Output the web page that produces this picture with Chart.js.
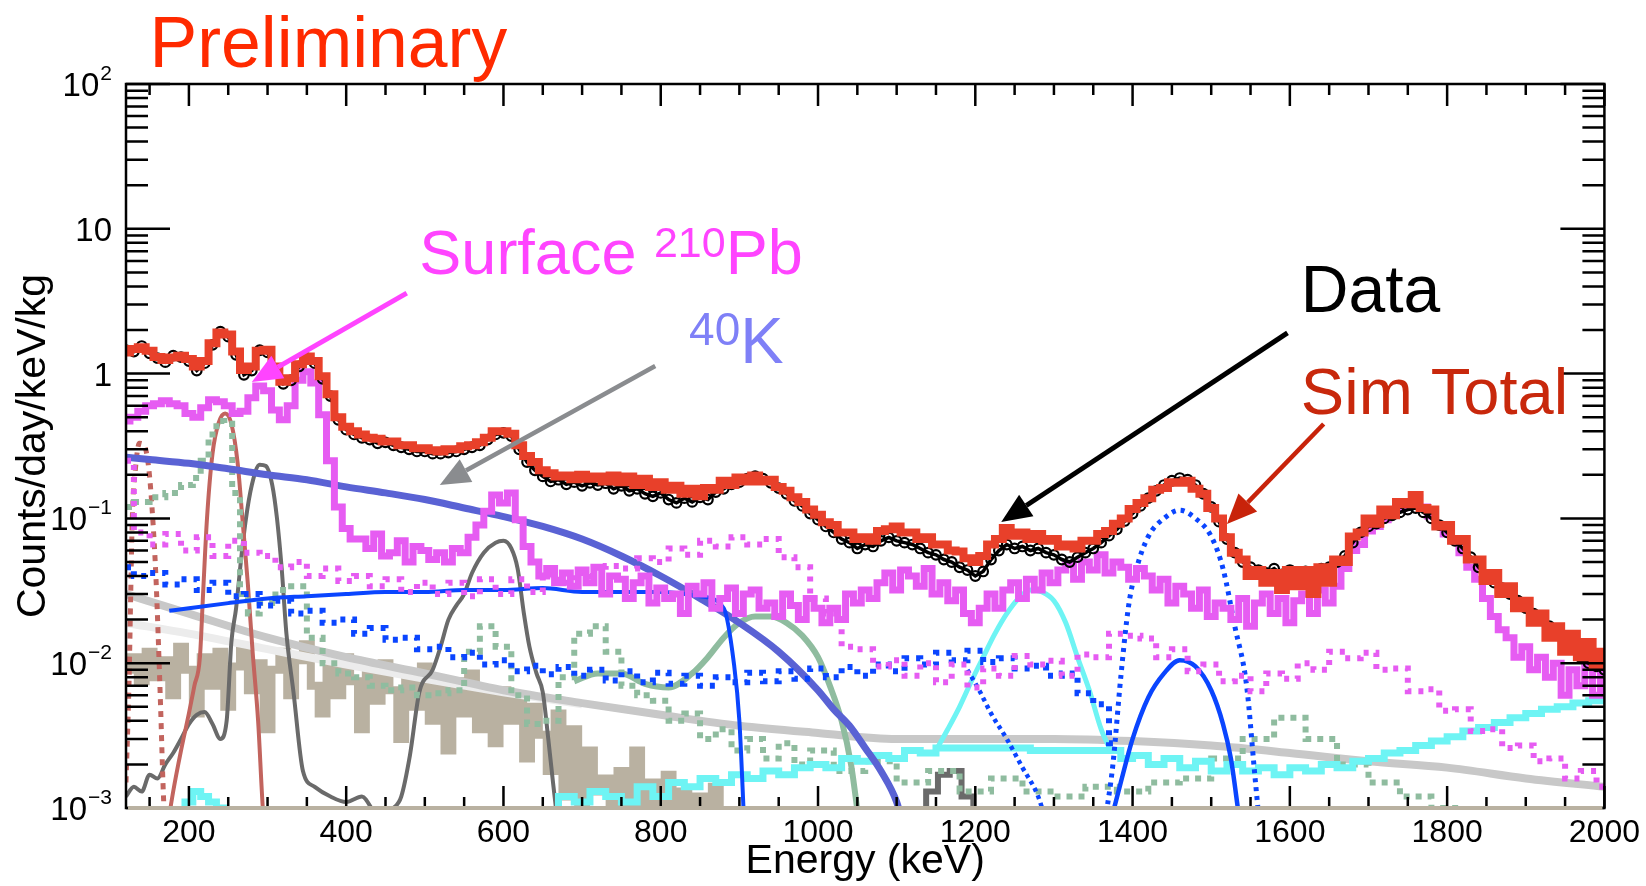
<!DOCTYPE html>
<html>
<head>
<meta charset="utf-8">
<script src="https://cdn.jsdelivr.net/npm/chart.js@4/dist/chart.umd.min.js"></script>
<style>
  html, body { margin: 0; padding: 0; background: #fff; }
  #wrap { width: 1646px; height: 886px; }
</style>
</head>
<body>
<div id="wrap"><canvas id="spectrum" width="1646" height="886"></canvas></div>
<script>
// Energy spectrum, counts/day/keV/kg, data vs simulated components (log y)

const E_MIN = 120, E_MAX = 2000
const X_TICK_STEP = 200
const Y_DECADES = [-3, -2, -1, 0, 1, 2]
const Y_TICK_BASE = ['10', '10', '10', '1', '10', '10']
const Y_TICK_SUP  = ['\u22123', '\u22122', '\u22121', '', '', '2']

// 10 keV bins starting at 120 keV
const SIM_TOTAL = [
  1.40,1.48,1.52,1.44,1.30,1.24,1.29,1.33,1.26,1.12,
  1.22,1.62,1.92,1.86,1.42,1.06,1.12,1.44,1.46,1.12,
  0.88,0.93,1.16,1.31,1.22,0.96,0.72,0.50,0.43,0.40,
  0.38,0.36,0.355,0.34,0.34,0.32,0.32,0.305,0.305,0.295,
  0.29,0.30,0.30,0.315,0.32,0.335,0.36,0.40,0.40,0.385,
  0.32,0.27,0.245,0.215,0.205,0.195,0.198,0.186,0.2,0.188,
  0.195,0.18,0.198,0.178,0.195,0.17,0.188,0.165,0.178,0.158,
  0.168,0.148,0.16,0.142,0.162,0.158,0.182,0.17,0.192,0.18,
  0.198,0.18,0.185,0.165,0.155,0.14,0.13,0.115,0.106,0.094,
  0.09,0.08,0.08,0.072,0.074,0.07,0.082,0.084,0.088,0.08,
  0.08,0.072,0.074,0.066,0.066,0.06,0.059,0.053,0.05,0.055,
  0.066,0.072,0.086,0.076,0.08,0.072,0.078,0.07,0.072,0.064,
  0.066,0.062,0.07,0.07,0.078,0.082,0.092,0.1,0.116,0.128,
  0.138,0.158,0.162,0.178,0.176,0.182,0.16,0.148,0.118,0.1,
  0.074,0.058,0.052,0.04,0.044,0.036,0.042,0.032,0.044,0.034,
  0.044,0.03,0.046,0.036,0.052,0.05,0.075,0.08,0.1,0.092,
  0.115,0.105,0.13,0.125,0.145,0.118,0.115,0.088,0.09,0.07,
  0.072,0.052,0.052,0.037,0.042,0.03,0.034,0.024,0.027,0.019,
  0.022,0.015,0.018,0.012,0.016,0.011,0.014,0.0095,0.012,
]
const DATA = [
  1.45,1.42,1.55,1.38,1.28,1.20,1.33,1.30,1.22,1.05,
  1.18,1.58,1.95,1.80,1.35,0.98,1.05,1.45,1.40,1.05,
  0.85,0.90,1.12,1.28,1.18,0.92,0.70,0.48,0.41,0.38,
  0.36,0.35,0.33,0.335,0.32,0.31,0.30,0.29,0.29,0.28,
  0.28,0.285,0.29,0.30,0.31,0.32,0.35,0.38,0.39,0.37,
  0.30,0.245,0.215,0.195,0.18,0.185,0.172,0.178,0.168,0.176,
  0.17,0.175,0.16,0.168,0.155,0.16,0.148,0.142,0.15,0.135,
  0.128,0.138,0.13,0.14,0.135,0.152,0.16,0.172,0.178,0.188,
  0.196,0.188,0.176,0.162,0.148,0.132,0.122,0.108,0.098,0.088,
  0.08,0.072,0.068,0.062,0.066,0.064,0.07,0.074,0.07,0.068,
  0.066,0.062,0.058,0.056,0.052,0.05,0.046,0.044,0.04,0.043,
  0.052,0.06,0.066,0.062,0.064,0.06,0.062,0.058,0.056,0.052,
  0.05,0.054,0.058,0.062,0.068,0.076,0.084,0.096,0.108,0.122,
  0.138,0.155,0.17,0.182,0.19,0.185,0.17,0.148,0.12,0.095,
  0.072,0.058,0.05,0.046,0.044,0.042,0.045,0.041,0.044,0.042,
  0.043,0.04,0.045,0.046,0.05,0.055,0.068,0.08,0.088,0.092,
  0.1,0.105,0.11,0.115,0.118,0.11,0.1,0.09,0.08,0.07,
  0.062,0.054,0.046,0.04,0.036,0.033,0.03,0.027,0.024,0.022,
  0.02,0.018,0.016,0.014,0.0125,0.011,0.01,0.0095,0.009,
]
const SURFACE_PB = [
  0.47,0.50,0.55,0.60,0.62,0.65,0.62,0.60,0.53,0.50,
  0.58,0.66,0.64,0.60,0.53,0.55,0.68,0.82,0.76,0.56,
  0.48,0.60,0.90,1.03,0.86,0.52,0.25,0.12,0.085,0.072,
  0.072,0.062,0.078,0.055,0.058,0.07,0.05,0.064,0.06,0.052,
  0.058,0.05,0.062,0.058,0.074,0.09,0.112,0.145,0.128,0.15,
  0.098,0.064,0.05,0.04,0.045,0.036,0.042,0.034,0.044,0.036,
  0.046,0.03,0.04,0.038,0.028,0.036,0.04,0.026,0.033,0.028,
  0.03,0.022,0.034,0.03,0.036,0.024,0.028,0.033,0.022,0.03,
  0.032,0.024,0.026,0.021,0.03,0.025,0.02,0.028,0.024,0.019,
  0.024,0.02,0.03,0.026,0.032,0.028,0.036,0.042,0.032,0.044,
  0.04,0.034,0.045,0.03,0.036,0.027,0.032,0.022,0.019,0.024,
  0.03,0.024,0.032,0.036,0.028,0.038,0.032,0.042,0.036,0.044,
  0.048,0.038,0.05,0.044,0.056,0.042,0.05,0.046,0.038,0.045,
  0.04,0.032,0.038,0.026,0.034,0.03,0.024,0.032,0.021,0.026,
  0.024,0.02,0.028,0.018,0.026,0.03,0.022,0.028,0.019,0.027,
  0.03,0.022,0.032,0.026,0.034,0.045,0.06,0.066,0.082,0.088,
  0.098,0.108,0.118,0.124,0.14,0.12,0.104,0.09,0.078,0.07,
  0.058,0.046,0.038,0.028,0.021,0.017,0.015,0.011,0.013,0.009,
  0.011,0.008,0.01,0.006,0.009,0.007,0.01,0.006,0.01,
]
// tan component, 10 keV bins from 120 keV
const TAN_COMP = [
  0.009,0.011,0.0075,0.012,0.008,0.0105,0.006,0.013,0.009,0.0045,
  0.011,0.007,0.012,0.005,0.0095,0.0125,0.0065,0.01,0.0035,0.009,
  0.012,0.006,0.0105,0.0135,0.007,0.0045,0.0095,0.006,0.011,0.0075,
  0.0035,0.009,0.0055,0.01,0.0065,0.003,0.0085,0.005,0.0095,0.004,
  0.007,0.0025,0.0075,0.0045,0.0085,0.0035,0.006,0.0028,0.0065,0.004,
  0.0055,0.0022,0.005,0.0032,0.0018,0.0045,0.0012,0.0035,0.0009,0.0025,
  0.0013,0.0016,0.0008,0.0018,0.0011,0.0025,0.0009,0.0015,0.0008,0.0017,
  0.0007,0.0013,0.0006,0.0012,0.0007,0.0014,0.0006,
]
// 20 keV bins from 120 keV
const SURFACE_PB_DASH = [
  0.25,0.08,0.066,0.078,0.06,0.074,0.055,0.07,0.058,0.055,
  0.046,0.05,0.04,0.045,0.037,0.04,0.034,0.038,0.031,0.036,
  0.03,0.036,0.029,0.038,0.03,0.038,0.031,0.041,0.036,0.042,
  0.04,0.047,0.045,0.053,0.05,0.062,0.056,0.07,0.064,0.074,
  0.066,0.072,0.054,0.046,0.028,0.022,0.013,0.0125,0.0095,0.0105,
  0.0082,0.01,0.0074,0.0098,0.0068,0.0092,0.0082,0.0112,0.0098,0.0104,
  0.0082,0.0115,0.011,0.016,0.0155,0.0148,0.011,0.0125,0.0088,0.0098,
  0.0075,0.0082,0.0064,0.0085,0.0078,0.01,0.009,0.012,0.0108,0.0118,
  0.009,0.0092,0.0064,0.0066,0.0047,0.0048,0.0034,0.0035,0.0026,0.0027,
  0.0021,0.0022,0.0016,0.0018,0.0014,
]
const BLUE_NOISE = [
  0.046,0.04,0.042,0.035,0.038,0.032,0.036,0.029,0.03,0.025,
  0.027,0.022,0.023,0.019,0.02,0.016,0.0175,0.0145,0.015,0.0125,
  0.013,0.011,0.0118,0.0098,0.0105,0.0088,0.0096,0.0084,0.0094,0.0082,
  0.009,0.0076,0.0088,0.0074,0.0086,0.0072,0.0082,0.007,0.008,0.0074,
  0.0086,0.0075,0.0088,0.0078,0.0092,0.008,0.0094,0.0082,0.0098,0.0088,
  0.0108,0.0098,0.0118,0.0105,0.0122,0.0102,0.0108,0.0092,0.0096,0.0082,
  0.0085,0.0062,0.0052,0.0028,
]

const K40_E = [120,150,200,250,300,350,400,450,500,550,600,650,700,750,800,850,900,950,1000,1020,1040,1060,1080,1100,1110]
const K40_V = [0.265,0.255,0.24,0.22,0.2,0.185,0.165,0.15,0.135,0.118,0.103,0.088,0.072,0.055,0.04,0.028,0.019,0.012,0.0065,0.0048,0.0037,0.0026,0.0018,0.0011,0.0007]

const BLUE_LINE_E = [175,200,250,300,350,400,450,500,550,600,650,700,750,800,850,880,893,900,906]
const BLUE_LINE_V = [0.023,0.024,0.026,0.028,0.029,0.03,0.031,0.031,0.032,0.032,0.033,0.031,0.031,0.031,0.029,0.024,0.01,0.004,0.0008]

const BLUE_PEAK_E = [1365,1375,1385,1395,1405,1420,1440,1460,1480,1500,1515,1530,1545,1555,1562]
const BLUE_PEAK_V = [0.0008,0.002,0.008,0.025,0.045,0.075,0.1,0.114,0.1,0.075,0.045,0.018,0.007,0.0018,0.0007]

const BLUE_ARC_E = [1372,1385,1400,1420,1440,1460,1480,1500,1515,1525,1535]
const BLUE_ARC_V = [0.0008,0.0015,0.003,0.0058,0.0085,0.0105,0.0095,0.0065,0.0038,0.0022,0.0009]

const BLUE_FALL_E = [1190,1205,1220,1240,1260,1280,1290]
const BLUE_FALL_V = [0.009,0.0065,0.0045,0.003,0.0019,0.0012,0.0008]

const BROWN_PEAK_E = [172,180,190,200,207,214,218,223,230,238,246,254,262,268,275,281,288,294,298]
const BROWN_PEAK_V = [0.0007,0.0013,0.0025,0.0045,0.007,0.011,0.03,0.1,0.28,0.46,0.53,0.45,0.24,0.1,0.035,0.012,0.004,0.001,0.0006]

const BROWN_EDGE_E = [120,124,126,128,132,137,143,149,154,158,161,164,167,170]
const BROWN_EDGE_V = [0.0015,0.008,0.03,0.1,0.22,0.33,0.32,0.22,0.1,0.04,0.015,0.005,0.0015,0.0006]

const GRAY_E = [120,130,140,150,160,170,180,190,200,210,220,230,240,248,254,260,266,272,280,290,298,306,312,318,324,333,345,360,380,400,420,440,460,470,481,493,510,520,530,540,550,560,575,590,600,610,618,626,633,642,650,657,663,670]
const GRAY_V = [0.0012,0.0014,0.0013,0.0017,0.0016,0.002,0.0024,0.003,0.0038,0.0044,0.0046,0.0038,0.003,0.004,0.014,0.024,0.05,0.095,0.17,0.235,0.23,0.17,0.1,0.045,0.016,0.0063,0.0018,0.0014,0.0012,0.0011,0.0012,0.0009,0.001,0.0012,0.0023,0.0063,0.009,0.013,0.02,0.025,0.03,0.042,0.058,0.068,0.07,0.062,0.045,0.022,0.013,0.0085,0.0063,0.003,0.0015,0.0007]

const GRAY_BUMP_E = [1130,1145,1160,1175,1190,1205]
const GRAY_BUMP_V = [0.0007,0.0013,0.0017,0.0018,0.0012,0.0007]

const GREEN_E = [120,140,160,180,200,210,220,230,240,250,260,270,280,300,320,340,360,380,400,420,440,460,480,500,520,540,560,580,600,620,640,660,680,700,720,740,760,780,800,820,840,860,880,900,920,940,960,980,1000,1040,1080,1120,1160,1200,1240,1280,1320,1360,1400,1440,1480,1520,1560,1600,1640,1680,1720,1760,1800,1840,1880]
const GREEN_V = [0.12,0.13,0.14,0.15,0.17,0.19,0.25,0.38,0.47,0.45,0.15,0.03,0.022,0.026,0.032,0.034,0.015,0.01,0.0085,0.008,0.007,0.0065,0.0068,0.006,0.0062,0.0065,0.012,0.018,0.013,0.006,0.0038,0.004,0.008,0.016,0.018,0.012,0.007,0.006,0.0055,0.004,0.0045,0.003,0.0035,0.0025,0.003,0.0022,0.0028,0.002,0.0025,0.0018,0.0021,0.0015,0.0018,0.0013,0.0016,0.0013,0.0012,0.0014,0.0013,0.0015,0.0016,0.0022,0.003,0.0042,0.003,0.002,0.0015,0.0012,0.001,0.0008,0.0006]

const GREEN_PEAK_E = [690,720,750,780,810,840,860,880,900,920,940,960,980,1000,1015,1030,1042,1052]
const GREEN_PEAK_V = [0.0075,0.0085,0.0085,0.0072,0.0068,0.0085,0.011,0.015,0.019,0.021,0.021,0.019,0.0155,0.011,0.007,0.004,0.002,0.0008]

const LIGHT_GRAY_E = [120,200,300,400,500,600,700,800,900,1000,1100,1200,1300,1400,1500,1600,1700,1800,1900,2000]
const LIGHT_GRAY_V = [0.03,0.022,0.015,0.011,0.0085,0.0065,0.0053,0.0044,0.0037,0.0033,0.003,0.003,0.003,0.0029,0.0027,0.0024,0.0021,0.0019,0.0016,0.0014]

const PALE_GRAY_E = [120,200,300,400,500,600,700]
const PALE_GRAY_V = [0.019,0.016,0.0125,0.0098,0.0078,0.0063,0.0052]

const CYAN_E = [190,200,210,220,230,240,250,260,650,660,680,700,720,740,760,780,800,820,840,860,880,900,920,940,960,980,1000,1020,1040,1060,1080,1100,1120,1140,1160,1380,1390,1410,1430,1450,1470,1490,1510,1530,1550,1570,1590,1610,1630,1650,1670,1690,1710,1730,1750,1770,1790,1810,1830,1850,1870,1890,1910,1930,1950,1970,1990,2000]
const CYAN_V = [
  0.0006,0.0011,0.0013,0.0012,0.0011,0.001,0.0008,0.0006,0.0006,0.0009,
  0.0012,0.0011,0.0013,0.0012,0.0011,0.0014,0.0012,0.0015,0.0014,0.0016,0.0015,0.0017,0.0016,0.0018,0.0017,
  0.0019,0.002,0.0019,0.0022,0.0021,0.0023,0.0022,0.0025,0.0024,0.0026,
  0.0025,0.0022,0.0023,0.002,0.0022,0.0019,0.0021,0.0018,0.002,0.0018,0.0019,0.0017,0.0019,0.0018,0.002,
  0.0019,0.0021,0.0022,0.0024,0.0025,0.0027,0.0029,0.0031,0.0034,0.0036,0.0039,0.0042,0.0045,0.0048,0.005,
  0.0053,0.0055,0.0055,
]

const CYAN_PEAK_E = [1150,1165,1180,1195,1210,1225,1240,1255,1270,1285,1300,1315,1330,1345,1360,1372]
const CYAN_PEAK_V = [0.0025,0.0035,0.005,0.0075,0.011,0.016,0.022,0.028,0.032,0.031,0.027,0.019,0.011,0.0065,0.0035,0.0025]

// annotations, placed in data coordinates (energy keV, counts)
const NOTE_TEXT = [
  { at: [150, 131],    color: '#ff2a00', parts: [['Preliminary', 71.5, 0]] },
  { at: [493, 4.87],   color: '#ff44ff', parts: [['Surface ', 63, 0], ['210', 43, 17], ['Pb', 63, 0]] },
  { at: [836, 1.18],   color: '#7f80f7', parts: [['40', 46, 18], ['K', 65, 0]] },
  { at: [1614, 2.65],  color: '#000000', parts: [['Data', 66, 0]] },
  { at: [1614, 0.526], color: '#c8280c', parts: [['Sim Total', 65, 0]] },
]
const NOTE_ARROWS = [
  { from: [477, 3.6],   to: [280, 0.875],   color: '#ff44ff', width: 5 },
  { from: [793, 1.13],  to: [519, 0.17],    color: '#8a8c8f', width: 4.5 },
  { from: [1597, 1.91], to: [1233, 0.0944], color: '#000000', width: 5 },
  { from: [1643, 0.449],to: [1520, 0.0915], color: '#c8230a', width: 4.5 },
]

const FONT = '"Liberation Sans", Arial, Helvetica, sans-serif'
Chart.defaults.font.family = FONT
Chart.defaults.color = '#000'

const pts = (xs, ys) => xs.map((x, i) => ({ x, y: ys[i] }))
const bins = (start, step, ys) => ys.map((y, i) => ({ x: start + i * step, y }))

const ds = (label, data, color, width, extra = {}) => ({
  label, data, borderColor: color, backgroundColor: color, borderWidth: width,
  pointRadius: 0, fill: false, clip: 0, ...extra,
})
const step = { stepped: 'middle' }
const smooth = { cubicInterpolationMode: 'monotone' }

// listed top-most first
const datasets = [
  ds('Sim Total', bins(E_MIN, 10, SIM_TOTAL), '#e8402a', 8, step),
  ds('Data', bins(E_MIN, 10, DATA), '#000', 3.5, {
    pointRadius: 4.8, pointBorderWidth: 2.2, pointBorderColor: '#000',
    pointBackgroundColor: 'rgba(0,0,0,0)', backgroundColor: 'rgba(0,0,0,0)',
  }),
  ds('Surface 210Pb', bins(E_MIN, 10, SURFACE_PB), '#e65cf2', 7, step),
  ds('Surface 210Pb b', bins(E_MIN, 20, SURFACE_PB_DASH), '#e65cf2', 6, { ...step, borderDash: [5, 7] }),
  ds('blue peak', pts(BLUE_PEAK_E, BLUE_PEAK_V), '#0a45ff', 5, { ...smooth, borderDash: [4, 5] }),
  ds('blue noise', bins(E_MIN, 20, BLUE_NOISE), '#0a45ff', 6, { ...step, borderDash: [5, 7] }),
  ds('blue line', pts(BLUE_LINE_E, BLUE_LINE_V), '#0a45ff', 4, smooth),
  ds('blue arc', pts(BLUE_ARC_E, BLUE_ARC_V), '#0a45ff', 4.5, smooth),
  ds('blue fall', pts(BLUE_FALL_E, BLUE_FALL_V), '#0a45ff', 4.5, { ...smooth, borderDash: [4, 4] }),
  ds('40K', pts(K40_E, K40_V), '#5a62d4', 7, smooth),
  ds('cyan peak', pts(CYAN_PEAK_E, CYAN_PEAK_V), '#6ef4f4', 5, smooth),
  ds('cyan', pts(CYAN_E, CYAN_V), '#6ef4f4', 7, step),
  ds('green peak', pts(GREEN_PEAK_E, GREEN_PEAK_V), '#8fbc9f', 6, smooth),
  ds('green', pts(GREEN_E, GREEN_V), '#8fbc9f', 6, { ...step, borderDash: [6, 6] }),
  ds('brown peak', pts(BROWN_PEAK_E, BROWN_PEAK_V), '#c2645e', 4, smooth),
  ds('brown edge', pts(BROWN_EDGE_E, BROWN_EDGE_V), '#c2645e', 5, { ...smooth, borderDash: [6, 6] }),
  ds('dark gray', pts(GRAY_E, GRAY_V), '#6a6a6a', 4, smooth),
  ds('dark gray bump', pts(GRAY_BUMP_E, GRAY_BUMP_V), '#6a6a6a', 6, step),
  ds('light gray', pts(LIGHT_GRAY_E, LIGHT_GRAY_V), '#c8c8c8', 8, smooth),
  ds('pale gray', pts(PALE_GRAY_E, PALE_GRAY_V), '#ececec', 8, smooth),
  ds('tan', bins(E_MIN, 10, TAN_COMP), '#b9b1a1', 8, step),
]

// ROOT-like frame: inward ticks on all four sides, y labels with real superscripts
const frame = {
  id: 'frame',
  afterDatasetsDraw(chart) {
    const { ctx, chartArea: a, scales: { x, y } } = chart
    ctx.save()
    ctx.strokeStyle = '#000'
    ctx.lineWidth = 2.5
    ctx.beginPath()
    for (let e = 150; e <= E_MAX; e += 50) {
      const px = x.getPixelForValue(e)
      const len = e % X_TICK_STEP === 0 ? 22 : 11
      ctx.moveTo(px, a.bottom); ctx.lineTo(px, a.bottom - len)
      ctx.moveTo(px, a.top);    ctx.lineTo(px, a.top + len)
    }
    for (const k of Y_DECADES) {
      for (let m = 1; m < 10; m++) {
        if (k === 2 && m > 1) break
        const py = y.getPixelForValue(m * 10 ** k)
        const len = m === 1 ? 44 : 22
        ctx.moveTo(a.left, py);  ctx.lineTo(a.left + len, py)
        ctx.moveTo(a.right, py); ctx.lineTo(a.right - len, py)
      }
    }
    ctx.stroke()
    ctx.strokeRect(a.left, a.top, a.width, a.height)
    // the tan component sits on the floor of the plot in the original
    ctx.strokeStyle = '#b9b1a1'
    ctx.lineWidth = 4
    ctx.beginPath(); ctx.moveTo(a.left + 2, a.bottom); ctx.lineTo(a.right - 2, a.bottom); ctx.stroke()

    ctx.fillStyle = '#000'
    ctx.textBaseline = 'alphabetic'
    Y_DECADES.forEach((k, i) => {
      const py = y.getPixelForValue(10 ** k)
      ctx.font = `33px ${FONT}`
      const bw = ctx.measureText(Y_TICK_BASE[i]).width
      ctx.font = `21px ${FONT}`
      const sw = Y_TICK_SUP[i] ? ctx.measureText(Y_TICK_SUP[i]).width + 1 : 0
      const x0 = a.left - 14 - bw - sw
      ctx.font = `33px ${FONT}`
      ctx.fillText(Y_TICK_BASE[i], x0, py + 12)
      if (sw) {
        ctx.font = `21px ${FONT}`
        ctx.fillText(Y_TICK_SUP[i], x0 + bw + 1, py - 4)
      }
    })
    ctx.restore()
  },
}

function drawArrow(ctx, x0, y0, x1, y1, color, width) {
  const ang = Math.atan2(y1 - y0, x1 - x0)
  const head = 30, half = 13
  const bx = x1 - head * Math.cos(ang), by = y1 - head * Math.sin(ang)
  ctx.strokeStyle = color
  ctx.lineWidth = width
  ctx.beginPath(); ctx.moveTo(x0, y0); ctx.lineTo(bx, by); ctx.stroke()
  ctx.fillStyle = color
  ctx.beginPath()
  ctx.moveTo(x1, y1)
  ctx.lineTo(bx + half * Math.sin(ang), by - half * Math.cos(ang))
  ctx.lineTo(bx - half * Math.sin(ang), by + half * Math.cos(ang))
  ctx.closePath()
  ctx.fill()
}

const notes = {
  id: 'notes',
  afterDraw(chart) {
    const { ctx, scales: { x, y } } = chart
    ctx.save()
    for (const a of NOTE_ARROWS) {
      drawArrow(ctx, x.getPixelForValue(a.from[0]), y.getPixelForValue(a.from[1]),
                x.getPixelForValue(a.to[0]), y.getPixelForValue(a.to[1]), a.color, a.width)
    }
    ctx.textBaseline = 'alphabetic'
    for (const t of NOTE_TEXT) {
      let px = x.getPixelForValue(t.at[0])
      const py = y.getPixelForValue(t.at[1])
      ctx.fillStyle = t.color
      for (const [txt, size, rise] of t.parts) {
        ctx.font = `${size}px ${FONT}`
        ctx.fillText(txt, px, py - rise)
        px += ctx.measureText(txt).width
      }
    }
    ctx.restore()
  },
}

new Chart(document.getElementById('spectrum'), {
  type: 'line',
  data: { datasets },
  plugins: [frame, notes],
  options: {
    responsive: false,
    animation: false,
    devicePixelRatio: 1,
    layout: { padding: { top: 84, right: 40, left: 0, bottom: 0 } },
    plugins: { legend: { display: false }, tooltip: { enabled: false } },
    scales: {
      x: {
        type: 'linear', min: E_MIN, max: E_MAX,
        grid: { display: false, drawTicks: false },
        border: { display: false },
        ticks: {
          stepSize: X_TICK_STEP, includeBounds: false, autoSkip: false, maxRotation: 0,
          padding: 6, color: '#000', font: { size: 32 },
          callback: v => String(v),
        },
        title: { display: true, text: 'Energy (keV)', color: '#000', font: { size: 41 }, padding: { top: 0, bottom: 0 } },
        afterFit: s => { s.height = 78 },
      },
      y: {
        type: 'logarithmic', min: 0.001, max: 100,
        grid: { display: false, drawTicks: false },
        border: { display: false },
        ticks: { display: false },
        title: { display: true, text: 'Counts/day/keV/kg', color: '#000', font: { size: 41 }, padding: { top: 9, bottom: 0 } },
        afterFit: s => { s.width = 126 },
      },
    },
  },
})
</script>
</body>
</html>
